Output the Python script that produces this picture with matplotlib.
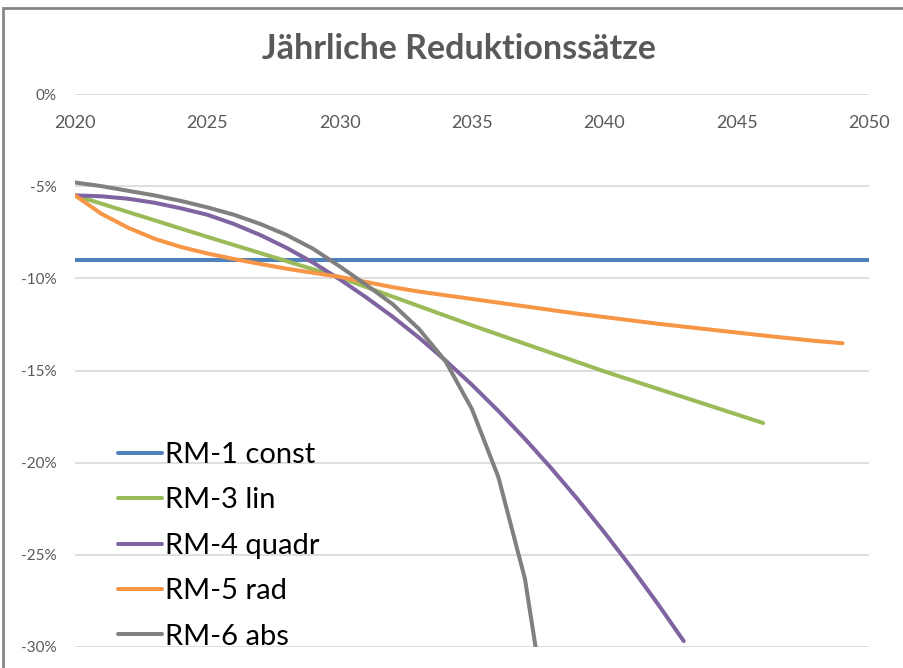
import matplotlib
matplotlib.use("Agg")
import matplotlib.pyplot as plt
from matplotlib.patches import Rectangle
from matplotlib.ticker import FuncFormatter

plt.rcParams['font.family'] = ['Lato', 'DejaVu Sans']

# data (percent per year)
years_const = [2020, 2050]
rm1_const = [-9.0, -9.0]

years_lin = [2020, 2025, 2030, 2035, 2040, 2046]
rm3_lin = [-5.5, -7.75, -9.95, -12.55, -15.05, -17.85]

years_quadr = list(range(2020, 2044))
rm4_quadr = [-5.50, -5.55, -5.68, -5.90, -6.20, -6.55, -7.05, -7.65, -8.35, -9.15,
             -10.05, -11.03, -12.08, -13.22, -14.46, -15.78, -17.20, -18.71, -20.31,
             -22.00, -23.78, -25.65, -27.62, -29.68]

years_rad = list(range(2020, 2050))
rm5_rad = [-5.5, -6.5, -7.25, -7.85, -8.3, -8.65, -8.95, -9.22, -9.48, -9.7,
           -9.92, -10.2, -10.48, -10.72, -10.92, -11.12, -11.32, -11.52, -11.72, -11.92,
           -12.1, -12.28, -12.46, -12.62, -12.78, -12.94, -13.1, -13.25, -13.4, -13.52]

years_abs = list(range(2020, 2039))
rm6_abs = [-4.8, -5.0, -5.25, -5.5, -5.8, -6.15, -6.55, -7.05, -7.65, -8.4,
           -9.35, -10.35, -11.4, -12.75, -14.5, -17.1, -20.8, -26.3, -35.5]

labels = ['RM-1 const', 'RM-3 lin', 'RM-4 quadr', 'RM-5 rad', 'RM-6 abs']
colors = ['#4F81BD', '#9BBB59', '#8064A2', '#F79646', '#808080']

x_ticks = [2020, 2025, 2030, 2035, 2040, 2045, 2050]
y_ticks = [0, -5, -10, -15, -20, -25, -30]

text_color = '#595959'

fig = plt.figure(figsize=(9.04, 6.68), dpi=100)
ax = fig.add_axes([75 / 904, 1 - 647 / 668, 794 / 904, 553 / 668])

series = [(years_const, rm1_const), (years_lin, rm3_lin), (years_quadr, rm4_quadr),
          (years_rad, rm5_rad), (years_abs, rm6_abs)]
for (xs, ys), lab, col in zip(series, labels, colors):
    ax.plot(xs, ys, color=col, lw=2.9, label=lab, solid_capstyle='round', zorder=3)

ax.set_xlim(2020, 2050)
ax.set_ylim(-30, 0)
ax.set_yticks(y_ticks)
ax.yaxis.set_major_formatter(FuncFormatter(lambda v, p: f'{int(round(v))}%'))
ax.tick_params(axis='y', length=0, pad=13, labelsize=11, labelcolor=text_color)
ax.set_xticks([])
ax.grid(axis='y', color='#D9D9D9', lw=1.2, zorder=0)
for s in ax.spines.values():
    s.set_visible(False)

# year labels sit just under the 0% line
for yr in x_ticks:
    ax.text(yr, -1.55, str(yr), ha='center', va='center', fontsize=13, color=text_color)

fig.text(0.508, 1 - 49 / 668, 'Jährliche Reduktionssätze', ha='center', va='center',
         fontsize=24.5, fontweight='bold', color=text_color)

leg = ax.legend(loc='upper left', bbox_to_anchor=(118 / 904, 1 - 442 / 668),
                bbox_transform=fig.transFigure, frameon=False, fontsize=21,
                handlelength=1.5, handletextpad=0.1, labelspacing=0.665, borderpad=0,
                borderaxespad=0)
for t in leg.get_texts():
    t.set_color('#000000')

# chart-area border (cropped at right/bottom)
fig.patches.append(Rectangle((3 / 904, -0.1), 1.2, 0.1 + (1 - 8 / 668), transform=fig.transFigure,
                             fill=False, edgecolor='#868686', lw=2.0))

fig.savefig('out.png', dpi=100)
